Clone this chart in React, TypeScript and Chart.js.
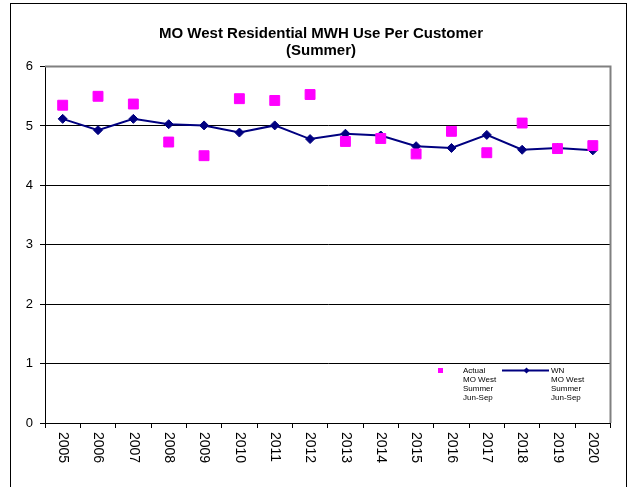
import React, { useEffect, useRef } from "react";
import { Chart, registerables } from "chart.js";

Chart.register(...registerables);

const years = ["2005","2006","2007","2008","2009","2010","2011","2012","2013","2014","2015","2016","2017","2018","2019","2020"];
const actual = [5.35, 5.5, 5.37, 4.73, 4.5, 5.46, 5.43, 5.53, 4.74, 4.79, 4.53, 4.91, 4.55, 5.05, 4.62, 4.67];
const weatherNormal = [5.12, 4.93, 5.12, 5.03, 5.01, 4.89, 5.01, 4.78, 4.87, 4.84, 4.66, 4.63, 4.85, 4.6, 4.63, 4.59];
const titleLines = ["MO West Residential MWH Use Per Customer", "(Summer)"];
const actualLegend = ["Actual", "MO West", "Summer", "Jun-Sep"];
const wnLegend = ["WN", "MO West", "Summer", "Jun-Sep"];

const FONT = '"Liberation Sans", Arial, Helvetica, sans-serif';
const PINK = "#FF00FF";
const NAVY = "#000080";

const decorPlugin = {
  id: "decor",
  beforeDatasetsDraw(chart: any) {
    const { ctx, chartArea } = chart;
    ctx.save();
    ctx.strokeStyle = "#808080";
    ctx.lineWidth = 2;
    ctx.beginPath();
    ctx.moveTo(chartArea.left, chartArea.top);
    ctx.lineTo(chartArea.right, chartArea.top);
    ctx.lineTo(chartArea.right, chartArea.bottom);
    ctx.stroke();
    ctx.restore();
  },
  afterDraw(chart: any) {
    const { ctx, chartArea } = chart;
    const xs = chart.scales.x;
    ctx.save();
    // outer frame
    ctx.strokeStyle = "#000";
    ctx.lineWidth = 1;
    ctx.strokeRect(10.5, 3.5, 616, 520);
    // title
    ctx.fillStyle = "#000";
    ctx.font = `bold 15px ${FONT}`;
    ctx.textAlign = "center";
    ctx.textBaseline = "alphabetic";
    ctx.fillText(titleLines[0], 321, 38);
    ctx.fillText(titleLines[1], 321, 55);
    // rotated x labels
    ctx.font = `14px ${FONT}`;
    ctx.textAlign = "left";
    ctx.textBaseline = "middle";
    years.forEach((y, i) => {
      const x = xs.getPixelForValue(i);
      ctx.save();
      ctx.translate(x, chartArea.bottom + 9);
      ctx.rotate(Math.PI / 2);
      ctx.fillText(y, 0, 0);
      ctx.restore();
    });
    // legend
    ctx.font = `8px ${FONT}`;
    ctx.textBaseline = "top";
    ctx.fillStyle = PINK;
    ctx.fillRect(438, 368, 5, 5);
    ctx.fillStyle = "#000";
    actualLegend.forEach((t, i) => ctx.fillText(t, 463, 367 + i * 9));
    ctx.strokeStyle = NAVY;
    ctx.lineWidth = 2;
    ctx.beginPath();
    ctx.moveTo(502, 370.5);
    ctx.lineTo(549, 370.5);
    ctx.stroke();
    ctx.fillStyle = NAVY;
    ctx.beginPath();
    ctx.moveTo(526.5, 367.5);
    ctx.lineTo(529.5, 370.5);
    ctx.lineTo(526.5, 373.5);
    ctx.lineTo(523.5, 370.5);
    ctx.closePath();
    ctx.fill();
    ctx.fillStyle = "#000";
    wnLegend.forEach((t, i) => ctx.fillText(t, 551, 367 + i * 9));
    ctx.restore();
  },
};

export default function App() {
  const ref = useRef<HTMLCanvasElement>(null);
  useEffect(() => {
    if (!ref.current) return;
    const chart = new Chart(ref.current, {
      type: "line",
      data: {
        labels: years,
        datasets: [
          {
            label: "Actual MO West Summer Jun-Sep",
            data: actual,
            showLine: false,
            pointStyle: "rect",
            pointRadius: 7,
            pointBackgroundColor: PINK,
            pointBorderColor: PINK,
            pointBorderWidth: 1,
            backgroundColor: PINK,
            borderColor: PINK,
          },
          {
            label: "WN MO West Summer Jun-Sep",
            data: weatherNormal,
            borderColor: NAVY,
            borderWidth: 2,
            tension: 0,
            pointStyle: "rectRot",
            pointRadius: 4.5,
            pointBackgroundColor: NAVY,
            pointBorderColor: NAVY,
            pointBorderWidth: 1,
            backgroundColor: NAVY,
          },
        ],
      },
      options: {
        responsive: false,
        animation: false,
        devicePixelRatio: 1,
        layout: { padding: { left: 0, right: 18.5, top: 66.6, bottom: 0 } },
        plugins: { legend: { display: false }, tooltip: { enabled: false }, title: { display: false } },
        scales: {
          x: {
            type: "category",
            offset: true,
            grid: { offset: true, drawOnChartArea: false, drawTicks: true, tickLength: 5, color: "#000", lineWidth: 1 },
            border: { color: "#000", width: 1 },
            ticks: { display: false },
            afterFit: (s: any) => { s.height = 64; },
          },
          y: {
            min: 0,
            max: 6,
            ticks: { stepSize: 1, color: "#000", font: { family: FONT, size: 13 }, padding: 7 },
            grid: { color: "#000", lineWidth: 1, tickLength: 5, drawTicks: true },
            border: { color: "#000", width: 1 },
            afterFit: (s: any) => { s.width = 45; },
          },
        },
      },
      plugins: [decorPlugin],
    });
    return () => chart.destroy();
  }, []);
  return (
    <div style={{ position: "absolute", left: 0, top: 0, width: 629, height: 487, background: "#fff" }}>
      <canvas ref={ref} width={629} height={487} style={{ display: "block" }} />
    </div>
  );
}
